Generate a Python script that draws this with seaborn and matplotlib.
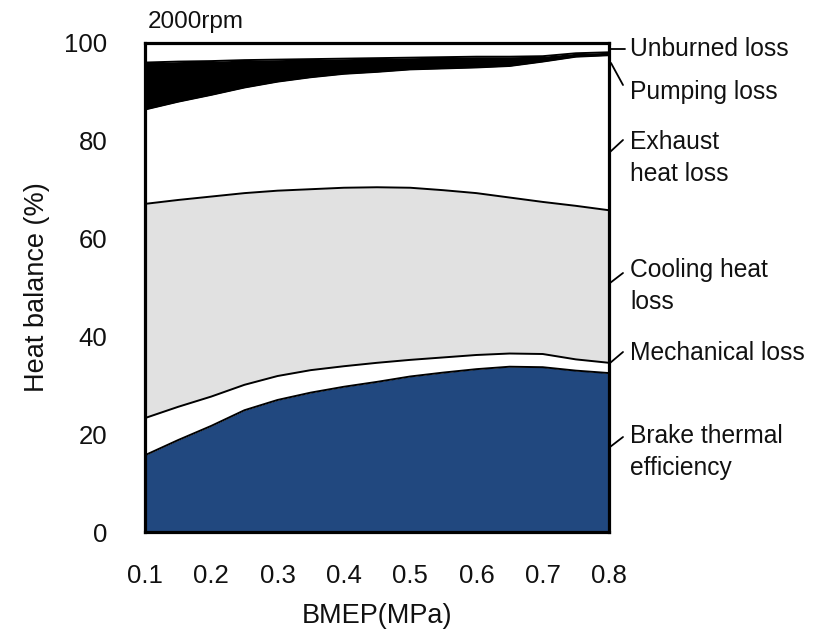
import numpy as np
import matplotlib
matplotlib.use("Agg")
import matplotlib.pyplot as plt
from matplotlib.lines import Line2D
import seaborn as sns

# BMEP operating points (MPa) at 2000 rpm
bmep = [0.10, 0.15, 0.20, 0.25, 0.30, 0.35, 0.40, 0.45,
        0.50, 0.55, 0.60, 0.65, 0.70, 0.75, 0.80]

# Heat balance shares (%) of each term
brake_thermal = [15.7, 18.8, 21.7, 24.9, 27.0, 28.5, 29.7, 30.7,
                 31.8, 32.6, 33.3, 33.8, 33.7, 33.0, 32.5]
mechanical = [7.6, 6.8, 6.0, 5.2, 4.9, 4.6, 4.2, 3.9,
              3.4, 3.1, 2.9, 2.7, 2.7, 2.3, 2.1]
cooling = [43.8, 42.3, 40.9, 39.2, 37.9, 37.0, 36.5, 35.9,
           35.2, 34.2, 33.1, 31.9, 31.1, 31.4, 31.2]
exhaust = [19.3, 20.1, 20.8, 21.6, 22.3, 22.9, 23.3, 23.6,
           24.2, 24.9, 25.7, 26.9, 28.7, 30.5, 31.7]
pumping = [9.6, 8.2, 6.9, 5.6, 4.5, 3.7, 3.1, 2.8,
           2.4, 2.3, 2.2, 1.9, 1.1, 0.7, 0.6]
unburned = [4.0, 3.8, 3.7, 3.5, 3.4, 3.3, 3.2, 3.1,
            3.0, 2.9, 2.8, 2.8, 2.7, 2.1, 1.9]

x_ticks = [0.1, 0.2, 0.3, 0.4, 0.5, 0.6, 0.7, 0.8]
x_tick_labels = ["0.1", "0.2", "0.3", "0.4", "0.5", "0.6", "0.7", "0.8"]
y_ticks = [0, 20, 40, 60, 80, 100]

sns.set_style("white")
plt.rcParams["font.family"] = ["Liberation Sans", "DejaVu Sans"]
plt.rcParams["text.color"] = "#111111"
plt.rcParams["axes.labelcolor"] = "#111111"

W, H = 815, 634
fig = plt.figure(figsize=(W / 100, H / 100), dpi=100)
ax = fig.add_axes([145 / W, 1 - 532 / H, (609 - 145) / W, (532 - 43) / H])

layers = [brake_thermal, mechanical, cooling, exhaust, pumping, unburned]
fills = ["#21487f", "white", "#e1e1e1", "white", "black", "white"]

x = np.array(bmep)
bottom = np.zeros(len(x))
tops = []
for vals, col in zip(layers, fills):
    top = bottom + np.array(vals)
    ax.fill_between(x, bottom, top, color=col, linewidth=0, zorder=1)
    tops.append(top)
    bottom = top

# Boundary lines between the terms
for top in tops[:-1]:
    sns.lineplot(x=bmep, y=top, color="black", linewidth=1.4, ax=ax,
                 zorder=3, estimator=None, sort=False)

ax.set_xlim(0.1, 0.8)
ax.set_ylim(0, 100)
ax.set_xticks(x_ticks)
ax.set_xticklabels(x_tick_labels)
ax.set_yticks(y_ticks)
ax.tick_params(axis="both", direction="in", length=6, width=1.6,
               labelsize=18.5, colors="black", labelcolor="#111111",
               top=False, right=False)
ax.tick_params(axis="x", pad=23)
ax.tick_params(axis="y", pad=27)
for sp in ax.spines.values():
    sp.set_linewidth(2.3)
    sp.set_color("black")
    sp.set_zorder(5)

ax.set_xlabel("BMEP(MPa)", fontsize=19.5, labelpad=11)
ax.set_ylabel("Heat balance (%)", fontsize=19.5, labelpad=10)

fig.text(148 / W, 1 - 22 / H, "2000rpm", fontsize=17.5, ha="left", va="center")

# Term labels to the right of the plot, with short leader lines
labels = [
    ("Unburned loss", 49),
    ("Pumping loss", 92),
    ("Exhaust\nheat loss", 158),
    ("Cooling heat\nloss", 286),
    ("Mechanical loss", 353),
    ("Brake thermal\nefficiency", 452),
]
for text, py in labels:
    fig.text(630 / W, 1 - py / H, text, fontsize=17.7, ha="left", va="center",
             linespacing=1.4)

leaders = [
    ((611, 49), (625, 49)),
    ((611, 63), (623, 85)),
    ((610, 152), (623, 140)),
    ((610, 283), (623, 273)),
    ((610, 363), (623, 352)),
    ((610, 447), (623, 437)),
]
for (x0, y0), (x1, y1) in leaders:
    fig.add_artist(Line2D([x0 / W, x1 / W], [1 - y0 / H, 1 - y1 / H],
                          transform=fig.transFigure, color="black",
                          linewidth=1.3))

fig.savefig("out.png", dpi=100)
